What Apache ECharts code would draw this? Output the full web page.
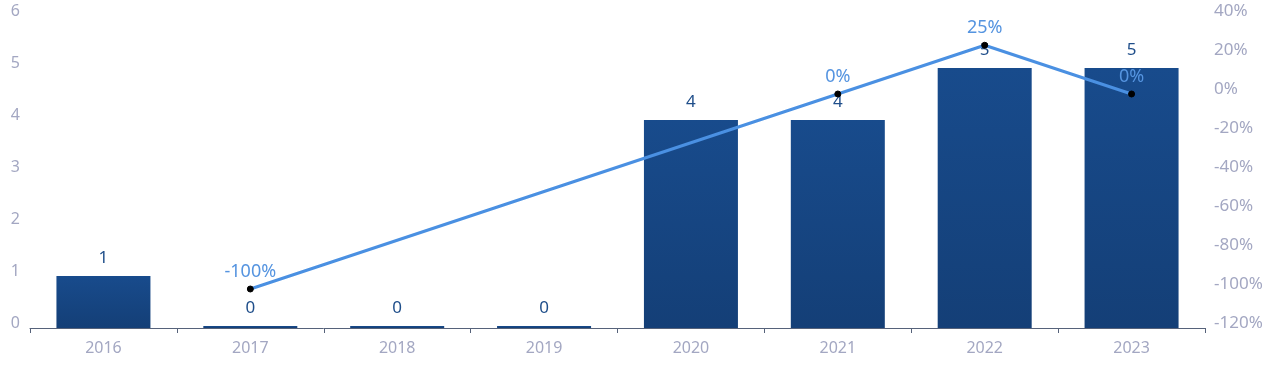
<!DOCTYPE html>
<html><head><meta charset="utf-8">
<script src="https://cdn.jsdelivr.net/npm/echarts@6/dist/echarts.min.js"></script>
<style>html,body{margin:0;padding:0;background:#fff}#c{width:1280px;height:382px}</style>
</head><body><div id="c"></div>
<script>
const categories = ['2016','2017','2018','2019','2020','2021','2022','2023'];
const barValues = [1, 0, 0, 0, 4, 4, 5, 5];
const growthValues = [null, -100, null, null, null, 0, 25, 0];
const leftTicks = {min: 0, max: 6, interval: 1};
const rightTicks = {min: -120, max: 40, interval: 20};

const chart = echarts.init(document.getElementById('c'));
const font = 'Noto Sans';
chart.setOption({
  animation: false,
  grid: {left: 30, right: 75, top: 16, bottom: 54},
  xAxis: {
    type: 'category', data: categories,
    axisLine: {lineStyle: {color: '#56627a', width: 1}},
    axisTick: {show: true, lineStyle: {color: '#56627a'}},
    axisLabel: {color: '#a3a7c2', fontSize: 16, fontFamily: font, margin: 12}
  },
  yAxis: [{
    type: 'value', min: leftTicks.min, max: leftTicks.max, interval: leftTicks.interval,
    splitLine: {show: false}, axisLine: {show: false}, axisTick: {show: false},
    axisLabel: {color: '#a3a7c2', fontSize: 16, fontFamily: font, margin: 10,
      verticalAlign: 'bottom', lineHeight: 10}
  }, {
    type: 'value', min: rightTicks.min, max: rightTicks.max, interval: rightTicks.interval,
    splitLine: {show: false}, axisLine: {show: false}, axisTick: {show: false},
    axisLabel: {color: '#a3a7c2', fontSize: 17, fontFamily: font, margin: 9,
      verticalAlign: 'bottom', lineHeight: 10,
      formatter: v => v + '%'}
  }],
  series: [{
    type: 'bar', data: barValues, barWidth: '64%', barMinHeight: 2,
    itemStyle: {color: new echarts.graphic.LinearGradient(0, 0, 0, 1, [
      {offset: 0, color: '#184b8c'}, {offset: 1, color: '#143f77'}])},
    label: {show: true, position: 'top', distance: 9, color: '#1f4e8a', fontSize: 17, fontFamily: font}
  }, {
    type: 'line', yAxisIndex: 1, data: growthValues, connectNulls: true,
    lineStyle: {color: '#4a90e2', width: 3},
    symbol: 'circle', symbolSize: 6,
    itemStyle: {color: '#000', borderColor: '#000'},
    label: {show: true, position: 'top', distance: 5, color: '#5594e0', fontSize: 18, fontFamily: font,
      formatter: p => p.value + '%'}
  }]
});
</script></body></html>
